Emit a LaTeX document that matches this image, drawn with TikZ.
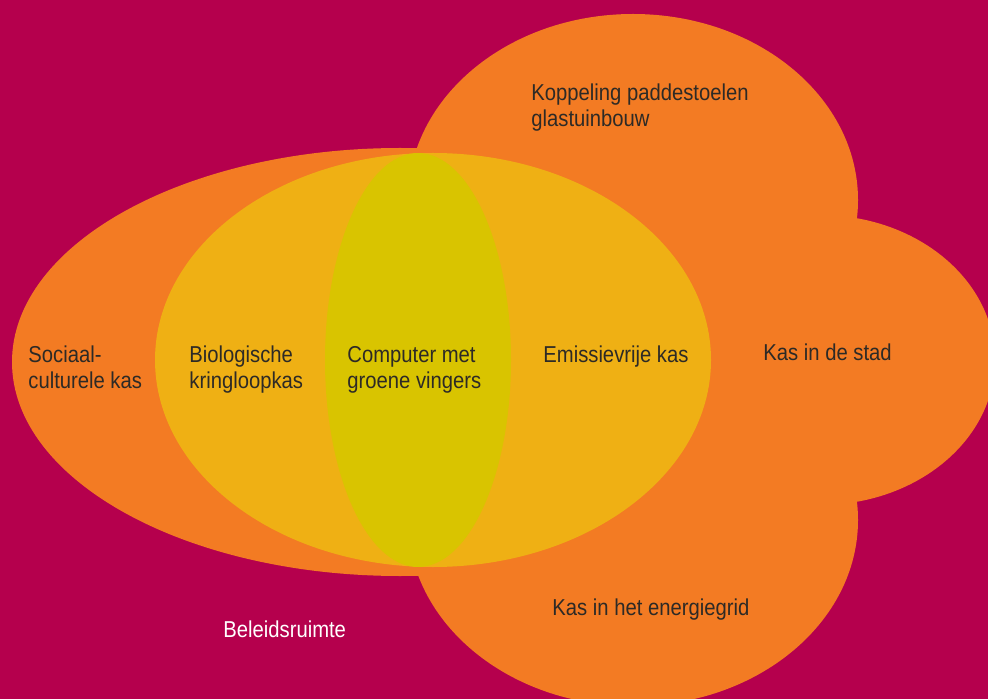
\documentclass[tikz,border=0pt]{standalone}
\usepackage{fontspec}
\setmainfont{Liberation Sans}[FakeStretch=0.88]
\usetikzlibrary{shapes.geometric}

\definecolor{beleid}{RGB}{181,0,77}
\definecolor{oranje}{RGB}{243,123,35}
\definecolor{geel}{RGB}{239,176,20}
\definecolor{groen}{RGB}{217,196,0}
\definecolor{tekst}{RGB}{45,42,38}

\begin{document}
\begin{tikzpicture}[x=0.5pt, y=-0.5pt,
    blob/.style={ellipse, draw=none, inner sep=0pt, outer sep=0pt},
    lbl/.style={anchor=base west, inner sep=0pt, align=left, text=tekst,
      font=\fontsize{11.5}{13}\selectfont}]
  \useasboundingbox (0,0) rectangle (988,699);
  \clip (0,0) rectangle (988,699);
  \fill[beleid] (0,0) rectangle (988,699);

  % oranje lobben
  \node[blob, fill=oranje, minimum width=225pt, minimum height=186pt] (boven) at (633,200) {};
  \node[blob, fill=oranje, minimum width=175pt, minimum height=145pt] (rechts) at (820,360) {};
  \node[blob, fill=oranje, minimum width=225pt, minimum height=186pt] (onder) at (633,520) {};
  \node[blob, fill=oranje, minimum width=388pt, minimum height=214pt] (links) at (400,362) {};

  % binnenste ellipsen
  \node[blob, fill=geel, minimum width=278pt, minimum height=207pt] (midden) at (433,360) {};
  \node[blob, fill=groen, minimum width=93pt, minimum height=207pt] (kern) at (418,360) {};

  % teksten (base = laatste regel)
  \node[lbl] (koppeling) at (531,127) {Koppeling paddestoelen\\glastuinbouw};
  \node[lbl] (sociaal) at (28,388) {Sociaal-\\culturele kas};
  \node[lbl] (bio) at (189,388) {Biologische\\kringloopkas};
  \node[lbl] (computer) at (347,388) {Computer met\\groene vingers};
  \node[lbl] (emissie) at (543,363) {Emissievrije kas};
  \node[lbl] (stad) at (763,361) {Kas in de stad};
  \node[lbl] (grid) at (552,615) {Kas in het energiegrid};
  \node[lbl, text=white] (beleidsruimte) at (223,637) {Beleidsruimte};
\end{tikzpicture}
\end{document}
